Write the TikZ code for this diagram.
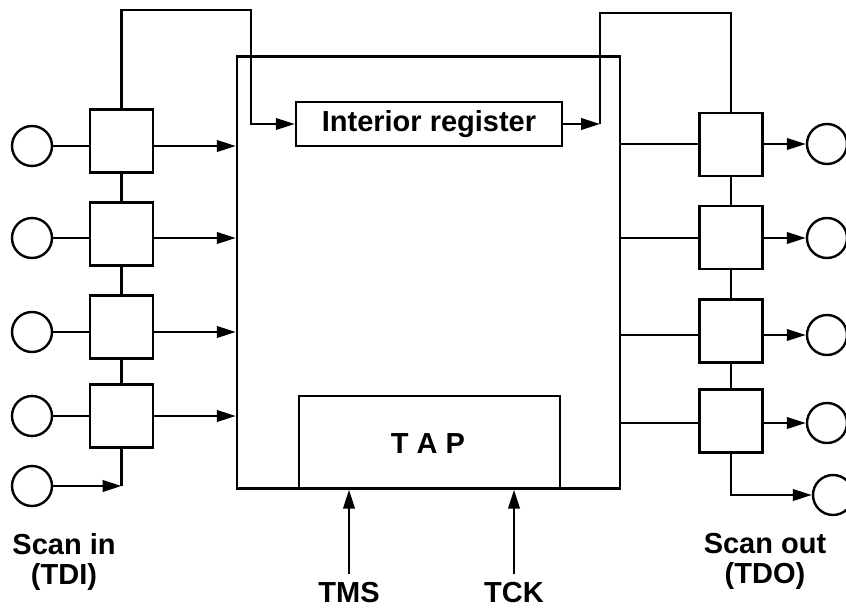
\documentclass[tikz,border=0pt]{standalone}
\usepackage{fontspec}
\setmainfont{Liberation Sans}
\usetikzlibrary{arrows.meta}
\begin{document}
\begin{tikzpicture}[x=1pt,y=-1pt,
  line width=2.4pt, line join=miter,
  arr/.style={-{Triangle[length=19pt,width=11.5pt]}},
  cellbox/.style={draw, rectangle, minimum width=63pt, minimum height=63pt, inner sep=0pt},
  pin/.style={draw, circle, minimum size=40pt, inner sep=0pt},
  lbl/.style={font=\bfseries\fontsize{29}{30}\selectfont, inner sep=0pt, align=center}]
\useasboundingbox (0,0) rectangle (846,608);

% main block
\node[draw, rectangle, minimum width=383pt, minimum height=432pt, inner sep=0pt] (main) at (428.5,272.5) {};
\node[draw, rectangle, minimum width=266pt, minimum height=44pt, inner sep=0pt, lbl] (reg) at (429,124) {Interior register};
\node[draw, rectangle, minimum width=261pt, minimum height=92pt, inner sep=0pt] (tap) at (429.5,442) {};
\node[lbl] (taptext) at (428,444) {T A P};

% left pins and cells
\node[pin] (c1) at (32,146) {};
\node[pin] (c2) at (32,238) {};
\node[pin] (c3) at (32,332) {};
\node[pin] (c4) at (32,416) {};
\node[pin] (c5) at (32,486) {};
\node[cellbox] (b1) at (121.5,141) {};
\node[cellbox] (b2) at (121.5,234) {};
\node[cellbox] (b3) at (121.5,327) {};
\node[cellbox] (b4) at (121.5,416) {};

% right pins and cells
\node[pin] (rc1) at (827,144) {};
\node[pin] (rc2) at (827,238) {};
\node[pin] (rc3) at (827,335) {};
\node[pin] (rc4) at (827,423) {};
\node[pin] (rc5) at (833,495) {};
\node[cellbox] (rb1) at (731,144.5) {};
\node[cellbox] (rb2) at (731,237.5) {};
\node[cellbox] (rb3) at (731,331) {};
\node[cellbox] (rb4) at (731,421) {};

% labels
\node[lbl, anchor=north] (scanin) at (64,532) {Scan in\\(TDI)};
\node[lbl, anchor=north] (scanout) at (765,532) {Scan out\\(TDO)};
\node[lbl] (TMS) at (349,592.5) {TMS};
\node[lbl] (TCK) at (514,592.5) {TCK};

\coordinate (topL) at (251,10);
\coordinate (tapR) at (600,124);
\coordinate (topR) at (600,13);

% left connections
\foreach \i in {1,2,3,4}{
  \draw (c\i) -- (c\i -| b\i.west);
  \draw[arr] (c\i -| b\i.east) -- (c\i -| main.west);
}
\draw (b1) -- (b2);
\draw (b2) -- (b3);
\draw (b3) -- (b4);
\draw (b4.south) -- (b4.south |- c5.center);
\draw[arr] (c5) -- (b4.south |- c5.center);

% top loops through interior register
\draw[arr] (b1.north) |- (topL) |- (reg.west);
\draw[arr] (reg.east) -- (tapR);
\draw (tapR) -- (topR) -| (rb1.north);

% right connections
\foreach \i in {1,2,3,4}{
  \draw (rc\i -| main.east) -- (rc\i -| rb\i.west);
  \draw[arr] (rc\i -| rb\i.east) -- (rc\i);
}
\draw (rb1) -- (rb2);
\draw (rb2) -- (rb3);
\draw (rb3) -- (rb4);
\draw[arr] (rb4.south) |- (rc5);

% TAP inputs
\draw[arr] ([yshift=7pt]TMS.north) -- (TMS.north |- main.south);
\draw[arr] ([yshift=7pt]TCK.north) -- (TCK.north |- main.south);
\end{tikzpicture}
\end{document}
